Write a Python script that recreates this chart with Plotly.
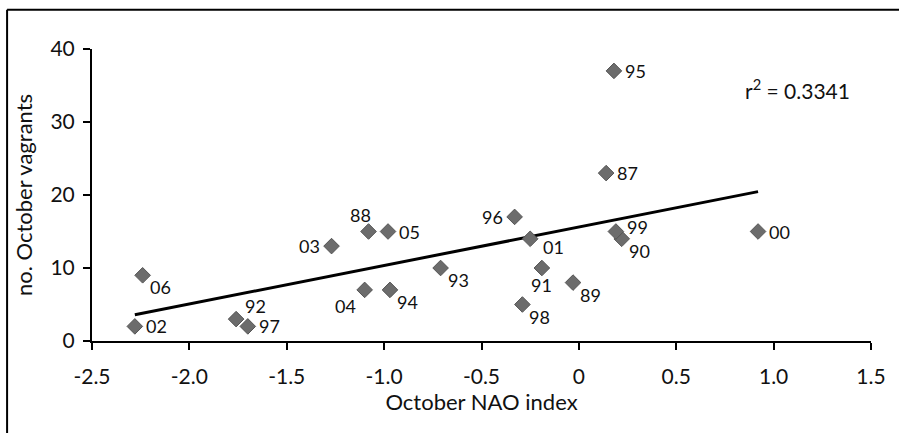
import numpy as np
import plotly.graph_objects as go

# October NAO index and number of October vagrants, by year (two-digit labels)
years = ["87", "88", "89", "90", "91", "92", "93", "94", "95", "96", "97",
         "98", "99", "00", "01", "02", "03", "04", "05", "06"]
nao_index = [0.14, -1.08, -0.03, 0.22, -0.19, -1.76, -0.71, -0.97, 0.18, -0.33, -1.70,
             -0.29, 0.19, 0.92, -0.25, -2.28, -1.27, -1.10, -0.98, -2.24]
vagrants = [23, 15, 8, 14, 10, 3, 10, 7, 37, 17, 2,
            5, 15, 15, 14, 2, 13, 7, 15, 9]
label_positions = ["middle right", "top center", "bottom right", "bottom right", "bottom center",
                   "top right", "bottom right", "bottom right", "middle right", "middle left",
                   "middle right", "bottom right", "upper right", "middle right", "lower right",
                   "middle right", "middle left", "bottom left", "middle right", "bottom right"]
r_squared_text = "r<sup>2</sup> = 0.3341"

x_ticks = [-2.5, -2.0, -1.5, -1.0, -0.5, 0.0, 0.5, 1.0, 1.5]
x_tick_text = ["-2.5", "-2.0", "-1.5", "-1.0", "-0.5", "0", "0.5", "1.0", "1.5"]
y_ticks = [0, 10, 20, 30, 40]

FONT = "Lato"
INK = "#111111"

# label placement around each marker: (xanchor, xshift, yshift) in pixels
LABEL_OFFSETS = {
    "middle right": ("left", 9, 0),
    "upper right": ("left", 9, 5),
    "middle left": ("right", -10, 0),
    "bottom right": ("left", 5, -12),
    "lower right": ("left", 11, -8),
    "bottom left": ("right", -7, -16),
    "bottom center": ("center", 0, -17),
    "top center": ("center", -8, 17),
    "top right": ("left", 7, 13),
}

# least-squares trend line across the observed NAO range
x_arr = np.array(nao_index)
y_arr = np.array(vagrants)
slope, intercept = np.polyfit(x_arr, y_arr, 1)
fit_x = np.array([x_arr.min(), x_arr.max()])
fit_y = slope * fit_x + intercept

fig = go.Figure()

fig.add_trace(go.Scatter(
    x=fit_x, y=fit_y, mode="lines",
    line=dict(color="black", width=3),
    hoverinfo="skip", showlegend=False,
))

fig.add_trace(go.Scatter(
    x=nao_index, y=vagrants, mode="markers",
    marker=dict(symbol="diamond", size=12, color="#6c6c6c",
                line=dict(color="#555555", width=1)),
    showlegend=False,
))

for xv, yv, lab, pos in zip(nao_index, vagrants, years, label_positions):
    anchor, dx, dy = LABEL_OFFSETS[pos]
    fig.add_annotation(
        x=xv, y=yv, text=lab, showarrow=False,
        xanchor=anchor, yanchor="middle", xshift=dx, yshift=dy,
        font=dict(family=FONT, size=18, color=INK),
    )

fig.add_annotation(
    x=1.12, y=34.5, text=r_squared_text, showarrow=False,
    font=dict(family=FONT, size=21, color=INK),
)

# outer frame lines (left and top edges)
fig.add_shape(type="line", xref="paper", yref="paper",
              x0=-0.109, x1=-0.109, y0=1.134, y1=-0.32,
              line=dict(color="black", width=2))
fig.add_shape(type="line", xref="paper", yref="paper",
              x0=-0.109, x1=1.04, y0=1.134, y1=1.134,
              line=dict(color="black", width=2))

fig.update_xaxes(
    range=[-2.5, 1.5], tickvals=x_ticks, ticktext=x_tick_text,
    showgrid=False, zeroline=False, showline=True, linecolor="black", linewidth=2,
    ticks="outside", ticklen=7, tickwidth=2, tickcolor="black",
    ticklabelstandoff=9,
    tickfont=dict(family=FONT, size=21, color=INK),
    title=dict(text="October NAO index", font=dict(family=FONT, size=22, color=INK),
               standoff=4),
)
fig.update_yaxes(
    range=[0, 40], tickvals=y_ticks,
    showgrid=False, zeroline=False, showline=True, linecolor="black", linewidth=2,
    ticks="outside", ticklen=7, tickwidth=2, tickcolor="black",
    ticklabelstandoff=4,
    tickfont=dict(family=FONT, size=21, color=INK),
    title=dict(text="no. October vagrants", font=dict(family=FONT, size=22, color=INK),
               standoff=12),
)

fig.update_layout(
    width=899, height=433,
    margin=dict(l=92, r=28, t=49, b=92),
    plot_bgcolor="white", paper_bgcolor="white",
)

fig.write_html("out.html")
